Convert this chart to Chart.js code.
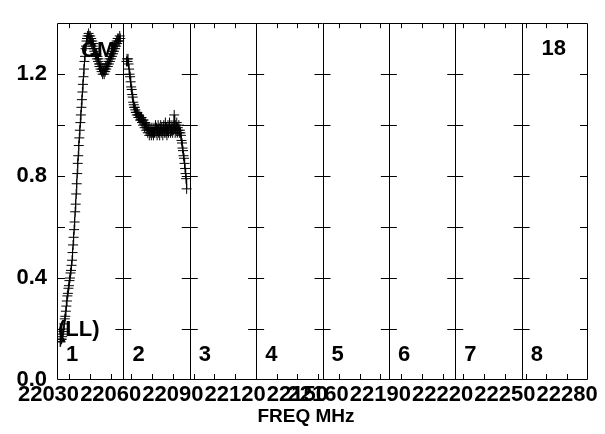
<!DOCTYPE html>
<html>
<head>
<meta charset="utf-8">
<script src="https://cdn.jsdelivr.net/npm/chart.js@4.4.1/dist/chart.umd.min.js"></script>
<style>
  html, body { margin: 0; padding: 0; background: #fff; }
  #wrap { width: 605px; height: 434px; }
</style>
</head>
<body>
<div id="wrap"><canvas id="chart" width="605" height="434"></canvas></div>
<script>
// IF bands (MHz), 8 panels of 32 MHz each
const ifStart = [22034.1, 22066.1, 22098.1, 22130.1, 22162.1, 22194.1, 22226.1, 22258.1];
const ifWidth = 32;
const ifNames = ['1', '2', '3', '4', '5', '6', '7', '8'];
const chanOffset = 1.5;   // first plotted channel above the IF edge
const chanWidth = 0.25;

const xTickLabels = [22030, 22060, 22090, 22120, 22150, 22160, 22190, 22220, 22250, 22280];
const xMinorTicks = [22040, 22050, 22060, 22070, 22080, 22090, 22100, 22110, 22120, 22130,
                     22140, 22150, 22160, 22170, 22180, 22190, 22200, 22210, 22220, 22230,
                     22240, 22250, 22260, 22270, 22280];
const yTicks = [0, 0.4, 0.8, 1.2];
const yMinorTicks = [0.2, 0.4, 0.6, 0.8, 1.0, 1.2];

// bandpass amplitude, IF 1 and IF 2 (others empty)
const ampIF1 = [
  0.15, 0.15, 0.16, 0.16, 0.17, 0.18, 0.19, 0.20, 0.22, 0.24,
  0.25, 0.27, 0.29, 0.31, 0.33, 0.34, 0.36, 0.37, 0.39, 0.40,
  0.42, 0.43, 0.45, 0.47, 0.50, 0.53, 0.56, 0.59, 0.62, 0.66,
  0.69, 0.73, 0.77, 0.81, 0.85, 0.88, 0.92, 0.95, 0.98, 1.01,
  1.04, 1.07, 1.10, 1.13, 1.16, 1.19, 1.22, 1.25, 1.27, 1.30,
  1.31, 1.33, 1.34, 1.35, 1.34, 1.36, 1.35, 1.34, 1.35, 1.33,
  1.34, 1.32, 1.33, 1.31, 1.32, 1.30, 1.29, 1.30, 1.28, 1.27,
  1.28, 1.26, 1.27, 1.25, 1.26, 1.24, 1.23, 1.24, 1.22, 1.23,
  1.21, 1.22, 1.20, 1.22, 1.21, 1.20, 1.22, 1.21, 1.23, 1.22,
  1.23, 1.24, 1.23, 1.25, 1.24, 1.26, 1.25, 1.27, 1.26, 1.28,
  1.27, 1.29, 1.28, 1.30, 1.29, 1.31, 1.30, 1.32, 1.31, 1.33,
  1.32, 1.34, 1.33, 1.34, 1.33, 1.35, 1.34
];
const ampIF2 = [
  1.25, 1.26, 1.25, 1.26, 1.24, 1.22, 1.20, 1.19, 1.17, 1.15,
  1.14, 1.12, 1.11, 1.09, 1.08, 1.07, 1.07, 1.06, 1.05, 1.05,
  1.04, 1.05, 1.04, 1.03, 1.04, 1.03, 1.02, 1.03, 1.02, 1.03,
  1.01, 1.02, 1.00, 1.02, 1.01, 0.99, 1.01, 1.00, 0.98, 1.00,
  0.99, 0.97, 0.99, 0.98, 0.96, 0.99, 0.97, 0.98, 0.96, 0.99,
  0.97, 0.98, 0.96, 0.99, 0.97, 0.98, 1.00, 0.97, 0.99, 0.96,
  0.98, 1.00, 0.97, 0.99, 0.96, 0.98, 1.00, 0.97, 0.99, 0.98,
  0.96, 0.99, 1.00, 0.97, 0.98, 1.01, 0.97, 0.99, 0.96, 0.98,
  1.00, 0.97, 0.99, 1.01, 0.98, 0.97, 1.00, 0.98, 0.99, 0.97,
  1.00, 0.98, 1.04, 0.99, 0.97, 1.00, 0.98, 1.01, 0.97, 0.99,
  0.98, 1.00, 0.97, 0.98, 0.97, 0.96, 0.94, 0.93, 0.91, 0.90,
  0.88, 0.87, 0.85, 0.83, 0.81, 0.79, 0.75
];

const FONT = "'Liberation Sans', Arial, sans-serif";
const titleSize = 19;

function bandData(amps, k) {
  return amps.map((v, i) => ({ x: ifStart[k] + chanOffset + i * chanWidth, y: v }));
}

function dataset(amps, k) {
  return {
    data: bandData(amps, k),
    borderColor: '#000',
    borderWidth: 1,
    pointStyle: 'cross',
    pointRadius: 5,
    pointBorderWidth: 1,
    pointBorderColor: '#000',
    tension: 0,
    fill: false
  };
}

// panel frames, cross ticks and labels
const panelPlugin = {
  id: 'panels',
  beforeDatasetsDraw(chart) {
    const { ctx, chartArea: a, scales: { x, y } } = chart;
    const edges = ifStart.map(f => x.getPixelForValue(f));
    edges.push(x.getPixelForValue(ifStart[ifStart.length - 1] + ifWidth));

    ctx.save();
    ctx.strokeStyle = '#000';
    ctx.lineWidth = 1;
    ctx.beginPath();
    ctx.rect(Math.round(a.left) + 0.5, Math.round(a.top) + 0.5,
             Math.round(a.right - a.left) - 1, Math.round(a.bottom - a.top) - 1);
    ctx.stroke();

    ctx.beginPath();
    for (let k = 1; k < edges.length - 1; k++) {
      const px = Math.round(edges[k]) + 0.5;
      ctx.moveTo(px, a.top);
      ctx.lineTo(px, a.bottom);
    }
    // y ticks crossing every panel edge
    edges.forEach(ex => {
      yMinorTicks.forEach(v => {
        const py = Math.round(y.getPixelForValue(v)) + 0.5;
        ctx.moveTo(Math.max(ex - 8, a.left), py);
        ctx.lineTo(Math.min(ex + 8, a.right), py);
      });
    });
    // frequency ticks, bottom and top
    xMinorTicks.forEach(f => {
      const px = Math.round(x.getPixelForValue(f)) + 0.5;
      ctx.moveTo(px, a.bottom);
      ctx.lineTo(px, a.bottom - 6);
      ctx.moveTo(px, a.top);
      ctx.lineTo(px, a.top + 5);
    });
    ctx.stroke();

    ctx.fillStyle = '#000';
    ctx.font = 'bold 22px ' + FONT;
    ctx.textBaseline = 'middle';
    ctx.textAlign = 'left';
    ifNames.forEach((n, k) => ctx.fillText(n, edges[k] + 9, a.bottom - 25));
    ctx.fillText('CM', a.left + 24, a.top + 28);
    ctx.fillText('(LL)', a.left + 1, a.bottom - 50);
    ctx.textAlign = 'right';
    ctx.fillText('18', a.right - 22, a.top + 26);
    ctx.restore();
  }
};

const ctx = document.getElementById('chart').getContext('2d');
new Chart(ctx, {
  type: 'line',
  data: { datasets: [dataset(ampIF1, 0), dataset(ampIF2, 1)] },
  options: {
    responsive: false,
    animation: false,
    layout: { padding: { left: 7, right: 0, top: 9, bottom: 0 } },
    plugins: {
      legend: { display: false },
      tooltip: { enabled: false },
      title: {
        display: true,
        position: 'bottom',
        text: 'FREQ MHz',
        color: '#000',
        font: { family: FONT, size: titleSize, weight: 'bold' },
        padding: { top: 0, bottom: 6 }
      }
    },
    scales: {
      x: {
        type: 'linear',
        min: ifStart[0],
        max: ifStart[ifStart.length - 1] + ifWidth,
        grid: { display: false, drawTicks: false },
        border: { display: false },
        afterBuildTicks: s => { s.ticks = xTickLabels.map(v => ({ value: v })); },
        afterFit: s => { s.height = 54 - (titleSize * 1.2 + 6); },
        ticks: {
          autoSkip: false,
          maxRotation: 0,
          minRotation: 0,
          padding: 2,
          color: '#000',
          font: { family: FONT, size: 22, weight: 'bold' },
          callback: v => String(v)
        }
      },
      y: {
        min: 0,
        max: 1.4,
        grid: { display: false, drawTicks: false },
        border: { display: false },
        afterBuildTicks: s => { s.ticks = yTicks.map(v => ({ value: v })); },
        afterFit: s => { s.width = 50; },
        ticks: {
          padding: 10,
          color: '#000',
          font: { family: FONT, size: 22, weight: 'bold' },
          callback: v => v.toFixed(1)
        }
      },
      yr: {
        position: 'right',
        min: 0,
        max: 1,
        grid: { display: false, drawTicks: false },
        border: { display: false },
        ticks: { display: false },
        afterFit: s => { s.width = 17; }
      }
    }
  },
  plugins: [panelPlugin]
});
</script>
</body>
</html>
